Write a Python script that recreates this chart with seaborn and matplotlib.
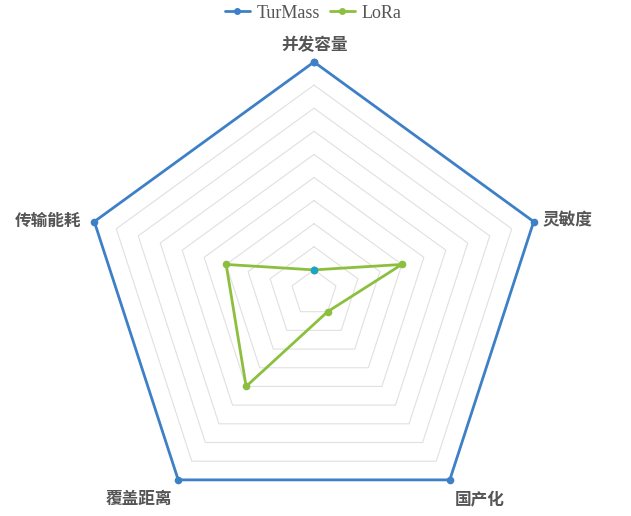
import numpy as np
import pandas as pd
import matplotlib
matplotlib.use("Agg")
import matplotlib.pyplot as plt
import seaborn as sns
from matplotlib.lines import Line2D

categories = ["并发容量", "灵敏度", "国产化", "覆盖距离", "传输能耗"]
turmass = [10, 10, 10, 10, 10]
lora = [1, 4, 1, 5, 4]
series_names = ["TurMass", "LoRa"]
ring_levels = list(range(1, 11))

sns.set_theme(style="white")
plt.rcParams["font.family"] = ["Noto Sans CJK SC", "DejaVu Sans"]

blue = "#3d80c6"
green = "#8dbf3f"
cyan = "#19a3cf"
grid_c = "#e0e0e0"
text_c = "#555555"

fig = plt.figure(figsize=(6.31, 5.16), dpi=100)
W, H = 631, 516
cx, cy, R = 314, 293, 231
ax = fig.add_axes([(cx - R) / W, (H - cy - R) / H, 2 * R / W, 2 * R / H], projection="polar")
ax.set_theta_offset(np.pi / 2)
ax.set_theta_direction(-1)
ax.set_ylim(0, 10)
ax.grid(False)
ax.spines["polar"].set_visible(False)
ax.set_xticks([])
ax.set_yticks([])
ax.patch.set_alpha(0)

n = len(categories)
theta = np.linspace(0, 2 * np.pi, n, endpoint=False)
theta_c = np.append(theta, theta[0])

for lv in ring_levels[:-1]:
    ax.plot(theta_c, [lv] * (n + 1), color=grid_c, lw=0.8, zorder=1)

df = pd.DataFrame({
    "theta": np.concatenate([theta_c, theta_c]),
    "r": np.concatenate([turmass + [turmass[0]], lora + [lora[0]]]),
    "series": [series_names[0]] * (n + 1) + [series_names[1]] * (n + 1),
})
sns.lineplot(data=df, x="theta", y="r", hue="series", palette=[blue, green],
             sort=False, estimator=None, marker="o", markersize=5.5,
             markeredgewidth=0, linewidth=2.0, ax=ax, legend=False, zorder=3,
             clip_on=False)
ax.scatter([theta[0]], [lora[0]], s=30, color=cyan, zorder=5, linewidths=0)
ax.set_xlabel("")
ax.set_ylabel("")

# axis labels
lab_pos = [
    (314, 45, "center"),
    (543, 220, "left"),
    (455, 499, "left"),
    (172, 499, "right"),
    (81, 221, "right"),
]
for cat, (px, py, ha) in zip(categories, lab_pos):
    fig.text(px / W, 1 - py / H, cat, ha=ha, va="center", fontsize=12,
             fontweight="bold", color=text_c)

handles = [Line2D([], [], color=blue, lw=2.0, marker="o", markersize=5, markeredgewidth=0),
           Line2D([], [], color=green, lw=2.0, marker="o", markersize=5, markeredgewidth=0)]
leg = fig.legend(handles, series_names, loc="center", bbox_to_anchor=(313 / W, 1 - 13 / H),
                 ncol=2, frameon=False, handlelength=1.4, handletextpad=0.35,
                 columnspacing=0.55, borderpad=0.2,
                 prop={"family": "Liberation Serif", "size": 13})
for t in leg.get_texts():
    t.set_color(text_c)

fig.savefig("out.png", dpi=100)
